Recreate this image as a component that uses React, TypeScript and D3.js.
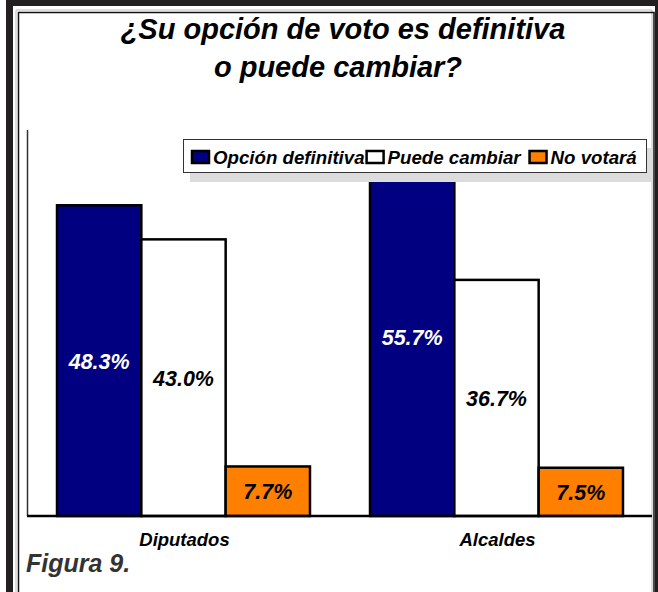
import React, { useEffect, useRef } from 'react';
import * as d3 from 'd3';

// Data
const categories = ['Diputados', 'Alcaldes'];
const series = ['Opción definitiva', 'Puede cambiar', 'No votará'];
const definitiva = [48.3, 55.7];
const puedeCambiar = [43.0, 36.7];
const noVotara = [7.7, 7.5];
const titleLines = ['¿Su opción de voto es definitiva', 'o puede cambiar?'];
const caption = 'Figura 9.';

const seriesColors = ['#000080', '#ffffff', '#ff8000'];
const labelColors = ['#ffffff', '#000000', '#000000'];

const FONT = '"Liberation Sans", Arial, sans-serif';

const App = () => {
  const svgRef = useRef<SVGSVGElement>(null);

  useEffect(() => {
    const svg = d3.select(svgRef.current);
    svg.selectAll('*').remove();

    const width = 658;
    const height = 592;
    const values = [definitiva, puedeCambiar, noVotara];

    svg.attr('width', width).attr('height', height);

    // background + page frame
    svg.append('rect').attr('width', width).attr('height', height).attr('fill', '#fff');
    const dark = '#231f20';
    svg.append('rect').attr('x', 6).attr('y', 0).attr('width', width - 6).attr('height', 6).attr('fill', dark);
    svg.append('rect').attr('x', 6).attr('y', 0).attr('width', 7).attr('height', height).attr('fill', dark);
    svg.append('rect').attr('x', 655).attr('y', 0).attr('width', 3).attr('height', height).attr('fill', dark);
    // inner frame (gray shadow + black line)
    svg.append('path')
      .attr('d', `M16,${height} V10 H652 V${height}`)
      .attr('fill', 'none').attr('stroke', '#bbb').attr('stroke-width', 1);
    svg.append('path')
      .attr('d', `M18.5,${height} V12.5 H654 V${height}`)
      .attr('fill', 'none').attr('stroke', '#111').attr('stroke-width', 1.5);

    // title
    svg.append('g')
      .selectAll('text')
      .data(titleLines)
      .enter()
      .append('text')
      .attr('x', (d, i) => (i === 0 ? 343 : 338))
      .attr('y', (d, i) => 39 + i * 38)
      .attr('text-anchor', 'middle')
      .attr('font-family', FONT)
      .attr('font-weight', 'bold')
      .attr('font-style', 'italic')
      .attr('font-size', 29)
      .attr('fill', '#000')
      .text(d => d);

    // scales
    const x0 = d3.scaleBand().domain(categories).range([27, 653]);
    const x1 = d3.scaleBand().domain(series).range([0, x0.bandwidth()]).paddingInner(0).paddingOuter(0.356);
    const y = d3.scaleLinear().domain([0, 60]).range([516, 130]);

    // y axis line
    svg.append('line')
      .attr('x1', 27.5).attr('x2', 27.5)
      .attr('y1', y(60)).attr('y2', y(0))
      .attr('stroke', '#333').attr('stroke-width', 1.5);

    const cells = categories.flatMap((c, ci) =>
      series.map((s, si) => ({ c, s, si, v: values[si][ci] }))
    );

    // bars
    svg.append('g')
      .selectAll('rect')
      .data(cells)
      .enter()
      .append('rect')
      .attr('x', d => (x0(d.c) as number) + (x1(d.s) as number))
      .attr('y', d => y(d.v))
      .attr('width', x1.bandwidth())
      .attr('height', d => y(0) - y(d.v))
      .attr('fill', d => seriesColors[d.si])
      .attr('stroke', '#000')
      .attr('stroke-width', 2.5);

    // baseline
    svg.append('line')
      .attr('x1', 27).attr('x2', 652)
      .attr('y1', y(0)).attr('y2', y(0))
      .attr('stroke', '#000').attr('stroke-width', 2.5);

    // value labels
    svg.append('g')
      .selectAll('text')
      .data(cells)
      .enter()
      .append('text')
      .attr('x', d => (x0(d.c) as number) + (x1(d.s) as number) + x1.bandwidth() / 2)
      .attr('y', d => (y(d.v) + y(0)) / 2 + 8)
      .attr('text-anchor', 'middle')
      .attr('font-family', FONT)
      .attr('font-weight', 'bold')
      .attr('font-style', 'italic')
      .attr('font-size', 21.5)
      .attr('fill', d => labelColors[d.si])
      .text(d => `${d.v.toFixed(1)}%`);

    // legend
    const lg = { x: 183, y: 139, w: 463, h: 33 };
    svg.append('rect')
      .attr('x', lg.x + 7).attr('y', lg.y + 9)
      .attr('width', lg.w).attr('height', lg.h + 1)
      .attr('fill', '#dcdcdc');
    svg.append('rect')
      .attr('x', lg.x + 0.5).attr('y', lg.y + 0.5)
      .attr('width', lg.w).attr('height', lg.h)
      .attr('fill', '#fff').attr('stroke', '#333').attr('stroke-width', 1);

    const gaps = [0, 7, 0];
    let cx = lg.x + 9;
    series.forEach((s, i) => {
      svg.append('rect')
        .attr('x', cx).attr('y', lg.y + 12)
        .attr('width', 17).attr('height', 12)
        .attr('fill', seriesColors[i])
        .attr('stroke', '#000').attr('stroke-width', 2.5);
      const t = svg.append('text')
        .attr('x', cx + 21)
        .attr('y', lg.y + 25)
        .attr('font-family', FONT)
        .attr('font-weight', 'bold')
        .attr('font-style', 'italic')
        .attr('font-size', 18.7)
        .attr('fill', '#000')
        .text(s);
      const len = (t.node() as SVGTextElement).getComputedTextLength();
      cx += 21 + len + gaps[i] + 2;
    });

    // category labels
    svg.append('g')
      .selectAll('text')
      .data(categories)
      .enter()
      .append('text')
      .attr('x', d => (x0(d) as number) + x0.bandwidth() / 2 + 1)
      .attr('y', 546)
      .attr('text-anchor', 'middle')
      .attr('font-family', FONT)
      .attr('font-weight', 'bold')
      .attr('font-style', 'italic')
      .attr('font-size', 18.5)
      .attr('fill', '#000')
      .text(d => d);

    // caption
    svg.append('text')
      .attr('x', 26)
      .attr('y', 572)
      .attr('font-family', FONT)
      .attr('font-weight', 'bold')
      .attr('font-style', 'italic')
      .attr('font-size', 25)
      .attr('fill', '#333')
      .text(caption);
  }, []);

  return (
    <svg
      ref={svgRef}
      style={{ position: 'absolute', left: 0, top: 0, display: 'block' }}
    ></svg>
  );
};

export default App;
